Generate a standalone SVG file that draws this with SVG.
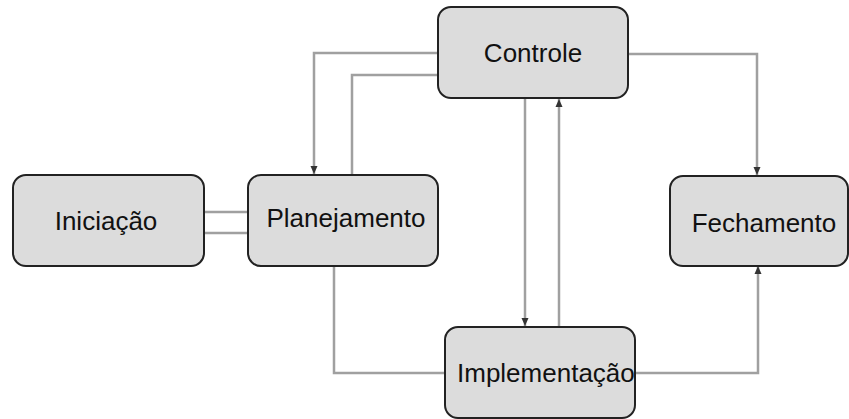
<svg xmlns="http://www.w3.org/2000/svg" width="849" height="419" viewBox="0 0 849 419">
<style>
.node rect{fill:#dcdcdc;stroke:#222;stroke-width:2}
.node text{font-family:"Liberation Sans",Arial,sans-serif;font-size:26px;fill:#111}
.conn path{fill:none;stroke:#a0a0a0;stroke-width:2.5}
</style>
<defs>
<marker id="arr" viewBox="0 0 8 10" refX="8" refY="5" markerWidth="8" markerHeight="10" markerUnits="userSpaceOnUse" orient="auto">
<path d="M0,1.5 L8,5 L0,8.5 z" fill="#333"/>
</marker>
</defs>
<rect width="849" height="419" fill="#fff"/>
<g id="connectors" class="conn">
<path d="M438,53 H314 V174" marker-end="url(#arr)"/>
<path d="M352,175 V75 H438"/>
<path d="M204,212 H248"/>
<path d="M204,233 H248"/>
<path d="M525,98 V326" marker-end="url(#arr)"/>
<path d="M559,327 V99" marker-end="url(#arr)"/>
<path d="M628,54 H757 V175" marker-end="url(#arr)"/>
<path d="M334,266 V373 H445"/>
<path d="M635,373 H758 V266" marker-end="url(#arr)"/>
</g>
<g id="controle" class="node">
<rect x="438" y="7" width="190" height="91" rx="13"/>
<text x="533" y="62" text-anchor="middle">Controle</text>
</g>
<g id="iniciacao" class="node">
<rect x="13" y="175" width="191" height="91" rx="13"/>
<text x="106" y="230" text-anchor="middle">Iniciação</text>
</g>
<g id="planejamento" class="node">
<rect x="248" y="175" width="190" height="91" rx="13"/>
<text x="346" y="227" text-anchor="middle">Planejamento</text>
</g>
<g id="fechamento" class="node">
<rect x="670" y="176" width="178" height="90" rx="13"/>
<text x="764" y="232" text-anchor="middle">Fechamento</text>
</g>
<g id="implementacao" class="node">
<rect x="445" y="327" width="190" height="91" rx="13"/>
<text x="457" y="382">Implementação</text>
</g>
</svg>
